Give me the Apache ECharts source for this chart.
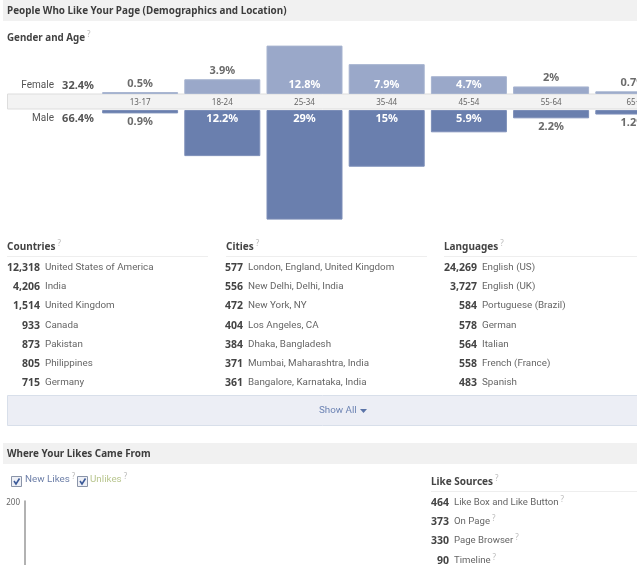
<!DOCTYPE html>
<html>
<head>
<meta charset="utf-8">
<title>People Who Like Your Page</title>
<script src="https://cdn.jsdelivr.net/npm/echarts@6/dist/echarts.min.js"></script>
<style>
  html, body { margin: 0; padding: 0; background: #fff; }
  #chart { width: 637px; height: 565px; }
</style>
</head>
<body>
<div id="chart"></div>
<script>
var ages = ['13-17', '18-24', '25-34', '35-44', '45-54', '55-64', '65+'];
var femaleShare = [0.5, 3.9, 12.8, 7.9, 4.7, 2, 0.7];
var maleShare = [0.9, 12.2, 29, 15, 5.9, 2.2, 1.2];

var countryCounts = ['12,318', '4,206', '1,514', '933', '873', '805', '715'];
var countryNames = ['United States of America', 'India', 'United Kingdom', 'Canada', 'Pakistan', 'Philippines', 'Germany'];
var cityCounts = ['577', '556', '472', '404', '384', '371', '361'];
var cityNames = ['London, England, United Kingdom', 'New Delhi, Delhi, India', 'New York, NY', 'Los Angeles, CA', 'Dhaka, Bangladesh', 'Mumbai, Maharashtra, India', 'Bangalore, Karnataka, India'];
var languageCounts = ['24,269', '3,727', '584', '578', '564', '558', '483'];
var languageNames = ['English (US)', 'English (UK)', 'Portuguese (Brazil)', 'German', 'Italian', 'French (France)', 'Spanish'];
var sourceCounts = ['464', '373', '330', '90'];
var sourceNames = ['Like Box and Like Button', 'On Page', 'Page Browser', 'Timeline'];

var FONT = '"Noto Sans", "DejaVu Sans", sans-serif';
var BODY_FONT = 'Roboto, "Liberation Sans", sans-serif';
var rowY = [267, 286, 305, 325, 344, 363, 382];
var sourceY = [502, 521, 540, 560];
var BAR_SCALE = 3.78; // px per percent, both halves use the same one
var TEXT_NUDGE = 1; // middle-aligned text sits a pixel high
var elements = [];

function addRect(x, y, w, h, fill, stroke) {
    elements.push({ type: 'rect', z: 1, shape: { x: x, y: y, width: w, height: h },
        style: { fill: fill, stroke: stroke || null, lineWidth: 1 } });
}

function addText(x, y, text, size, color, bold, align) {
    elements.push({ type: 'text', z: 5, x: x, y: y + TEXT_NUDGE, style: {
        text: text, fontFamily: bold ? FONT : BODY_FONT, fontSize: size, fill: color,
        fontWeight: bold ? 'bold' : 'normal', align: align || 'left', verticalAlign: 'middle' } });
}

// text with the small grey help mark after it
function addHelpText(x, y, text, size, color, bold) {
    elements.push({ type: 'text', z: 5, x: x, y: y + TEXT_NUDGE, style: {
        text: '{t|' + text + '}{q|?}', fontFamily: FONT, verticalAlign: 'middle',
        rich: {
            t: { fontFamily: bold ? FONT : BODY_FONT, fontSize: size, fill: color, fontWeight: bold ? 'bold' : 'normal' },
            q: { fontFamily: FONT, fontSize: 8, fill: '#bbbbbb', padding: [0, 0, 6, 2] }
        } } });
}

function addHeading(x, y, text, x2) {
    addHelpText(x, y, text, 10, '#444444', true);
    elements.push({ type: 'line', z: 1, shape: { x1: x, y1: y + 10.5, x2: x2, y2: y + 10.5 },
        style: { stroke: '#eeeeee', lineWidth: 1 } });
}

function addList(countX, y, counts, names, help) {
    counts.forEach(function (c, i) {
        addText(countX, y[i], c, 10.5, '#444444', true, 'right');
        if (help) addHelpText(countX + 5, y[i], names[i], 9.6, '#666666', false);
        else addText(countX + 5, y[i], names[i], 9.8, '#666666', false);
    });
}

function addCheckbox(x, y) {
    addRect(x + 0.5, y + 0.5, 10, 10, '#eef0f6', '#8a94a8');
    elements.push({ type: 'polyline', z: 5, shape: { points: [[x + 3, y + 5], [x + 5, y + 8], [x + 8.5, y + 2.5]] },
        style: { stroke: '#3b5998', lineWidth: 1.6, fill: null } });
}

function barData(values, inside, outside) {
    return values.map(function (v) {
        var big = v >= 4.5;
        return { value: v, label: {
            position: big ? inside : outside,
            distance: big ? 3.5 : 3,
            color: big ? '#ffffff' : '#6b6b6b'
        } };
    });
}

// section headers
addRect(3, 0, 634, 21, '#f1f1f1');
addRect(3, 443, 634, 21, '#f1f1f1');
addText(7, 10, 'People Who Like Your Page (Demographics and Location)', 9.9, '#3d3d3d', true);
addText(7, 453.5, 'Where Your Likes Came From', 9.9, '#3d3d3d', true);

// gender and age
addHelpText(7, 37, 'Gender and Age', 9.8, '#444444', true);
addRect(7.5, 94, 630, 15, '#f3f3f3', '#dddddd');
addText(54, 84.5, 'Female', 10, '#555555', false, 'right');
addText(94, 84.5, '32.4%', 11, '#555555', true, 'right');
addText(54, 117.5, 'Male', 10, '#555555', false, 'right');
addText(94, 117.5, '66.4%', 11, '#555555', true, 'right');

// lists
addHeading(7, 246, 'Countries', 208);
addHeading(226, 246, 'Cities', 427);
addHeading(444, 246, 'Languages', 637);
addList(40, rowY, countryCounts, countryNames);
addList(243, rowY, cityCounts, cityNames);
addList(477, rowY, languageCounts, languageNames);

// show all
addRect(7.5, 395.5, 630, 30, '#eceef5', '#d8dfea');
addText(319, 410, 'Show All', 9.8, '#6d84b4', false);
elements.push({ type: 'polygon', z: 5, shape: { points: [[360, 409], [367, 409], [363.5, 413]] }, style: { fill: '#5b74a8' } });

// likes legend
addCheckbox(11, 476);
addHelpText(25, 479, 'New Likes', 9.8, '#6d7fa8', false);
addCheckbox(77, 476);
addHelpText(90, 479, 'Unlikes', 9.8, '#b9c68f', false);

// like sources
addHeading(431, 481, 'Like Sources', 637);
addList(449, sourceY, sourceCounts, sourceNames, true);

var chart = echarts.init(document.getElementById('chart'), null, { renderer: 'canvas' });

chart.setOption({
    animation: false,
    backgroundColor: '#ffffff',
    textStyle: { fontFamily: FONT },
    graphic: { elements: elements },
    grid: [
        { left: 99, top: 44, width: 575.4, height: 50, outerBoundsMode: 'none' },
        { left: 99, top: 110, width: 575.4, height: 110, outerBoundsMode: 'none' },
        { left: 25, top: 501, width: 390, height: 200, outerBoundsMode: 'none' }
    ],
    xAxis: [
        { type: 'category', gridIndex: 0, data: ages, z: 10,
          axisLine: { show: false }, axisTick: { show: false },
          axisLabel: { interval: 0, margin: 5, fontSize: 8, color: '#666666', fontFamily: FONT } },
        { type: 'category', gridIndex: 1, data: ages, show: false },
        { type: 'category', gridIndex: 2, data: [], show: false }
    ],
    yAxis: [
        { type: 'value', gridIndex: 0, min: 0, max: 50 / BAR_SCALE, show: false, splitLine: { show: false } },
        { type: 'value', gridIndex: 1, min: 0, max: 110 / BAR_SCALE, inverse: true, show: false, splitLine: { show: false } },
        { type: 'value', gridIndex: 2, min: 0, max: 200, interval: 200, splitLine: { show: false },
          axisLine: { show: true, lineStyle: { color: '#999999', width: 1.5 } }, axisTick: { show: false },
          axisLabel: { fontSize: 8, color: '#666666', margin: 5, verticalAlign: 'top', lineHeight: 4, fontFamily: FONT } }
    ],
    series: [
        { name: 'Female', type: 'bar', xAxisIndex: 0, yAxisIndex: 0, barWidth: 76,
          data: barData(femaleShare, 'insideBottom', 'top'),
          itemStyle: { color: '#9aa8c9', borderColor: '#a6b3cf', borderWidth: 1 },
          label: { show: true, fontSize: 11, fontWeight: 'bold', fontFamily: FONT, formatter: '{c}%' } },
        { name: 'Male', type: 'bar', xAxisIndex: 1, yAxisIndex: 1, barWidth: 76,
          data: barData(maleShare, 'insideTop', 'bottom'),
          itemStyle: { color: '#6a7fae', borderColor: '#7c8eb8', borderWidth: 1 },
          label: { show: true, fontSize: 11, fontWeight: 'bold', fontFamily: FONT, formatter: '{c}%' } },
        { name: 'New Likes', type: 'line', xAxisIndex: 2, yAxisIndex: 2, data: [] },
        { name: 'Unlikes', type: 'line', xAxisIndex: 2, yAxisIndex: 2, data: [] }
    ]
});
</script>
</body>
</html>
